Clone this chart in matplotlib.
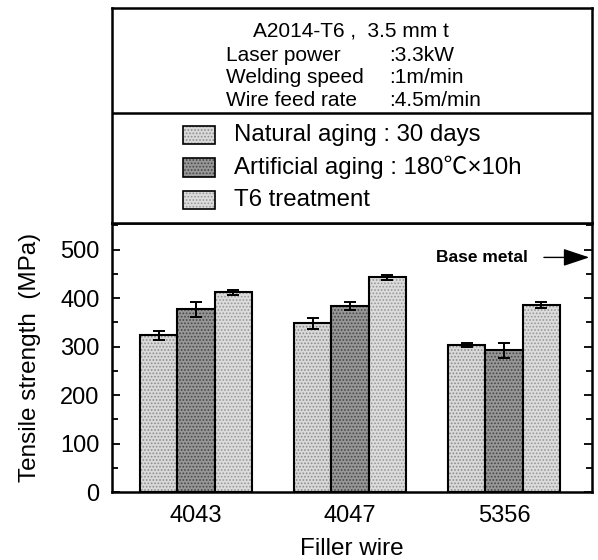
import matplotlib.pyplot as plt
import numpy as np
from matplotlib.patches import Rectangle

plt.rcParams['font.family'] = ['Liberation Sans', 'Noto Sans CJK JP', 'DejaVu Sans']
plt.rcParams['hatch.linewidth'] = 0.8

wires = ['4043', '4047', '5356']
natural = [323, 348, 304]
artificial = [377, 383, 292]
t6 = [412, 443, 386]
natural_err = [9, 11, 4]
artificial_err = [15, 8, 16]
t6_err = [5, 5, 6]
base_metal = 484

series = [
    ('Natural aging : 30 days', natural, natural_err, '#d9d9d9', '#8c8c8c'),
    ('Artificial aging : 180℃×10h', artificial, artificial_err, '#979797', '#454545'),
    ('T6 treatment', t6, t6_err, '#dcdcdc', '#969696'),
]

fig = plt.figure(figsize=(5.98, 5.60), dpi=100)
ax = fig.add_axes([0.1873, 0.1214, 0.8027, 0.4804])
top = fig.add_axes([0.1873, 0.6018, 0.8027, 0.3839])

x = np.arange(len(wires))
w = 0.243
for i, (name, vals, errs, fc, hc) in enumerate(series):
    pos = x + (i - 1) * w
    ax.bar(pos, vals, w, color=fc, edgecolor=hc, linewidth=0, hatch='.....')
    ax.bar(pos, vals, w, fill=False, edgecolor='black', linewidth=1.5)
    ax.errorbar(pos, vals, yerr=errs, fmt='none', ecolor='black',
                elinewidth=1.4, capsize=4.5, capthick=1.4)

ax.set_xlim(-0.545, 2.571)
ax.set_ylim(0, 555)
ax.set_yticks(np.arange(0, 501, 100))
ax.set_yticks(np.arange(50, 551, 100), minor=True)
ax.set_xticks(x)
ax.set_xticklabels(wires)
ax.tick_params(axis='x', length=0, labelsize=17, pad=9)
ax.tick_params(axis='y', which='both', direction='in', right=True, labelsize=17,
               width=1.3, pad=9)
ax.tick_params(axis='y', which='major', length=6)
ax.tick_params(axis='y', which='minor', length=4)
for s in ax.spines.values():
    s.set_linewidth(1.8)
ax.set_xlabel('Filler wire', fontsize=17.5, labelpad=8)
ax.set_ylabel('Tensile strength  (MPa)', fontsize=17.5, labelpad=14)

ax.annotate('', xy=(1.0, base_metal), xytext=(0.894, base_metal),
            xycoords=('axes fraction', 'data'), textcoords=('axes fraction', 'data'),
            arrowprops=dict(arrowstyle='-|>,head_length=0.9,head_width=0.3',
                            color='black', lw=1.0, mutation_scale=18))
ax.text(0.867, base_metal, 'Base metal', transform=ax.get_yaxis_transform(),
        ha='right', va='center', fontsize=12.5, fontweight='bold')

# header box
top.set_xlim(0, 1)
top.set_ylim(0, 1)
top.set_xticks([])
top.set_yticks([])
for s in top.spines.values():
    s.set_linewidth(1.8)
top.axhline(0.512, color='black', lw=1.8)
top.text(0.498, 0.895, 'A2014-T6 ,  3.5 mm t', ha='center', va='center', fontsize=15)
info = [('Laser power', ':3.3kW'), ('Welding speed', ':1m/min'),
        ('Wire feed rate', ':4.5m/min')]
for k, (lab, val) in enumerate(info):
    yy = 0.781 - k * 0.105
    top.text(0.2375, yy, lab, ha='left', va='center', fontsize=15)
    top.text(0.577, yy, val, ha='left', va='center', fontsize=15)

for k, (name, vals, errs, fc, hc) in enumerate(series):
    yy = 0.409 - k * 0.151
    top.add_patch(Rectangle((0.148, yy - 0.042), 0.067, 0.084, facecolor=fc,
                            edgecolor=hc, linewidth=0, hatch='.....'))
    top.add_patch(Rectangle((0.148, yy - 0.042), 0.067, 0.084, fill=False,
                            edgecolor='black', linewidth=1.2))
    top.text(0.254, yy, name, ha='left', va='center', fontsize=17.3)

fig.savefig('out.png', dpi=100)
